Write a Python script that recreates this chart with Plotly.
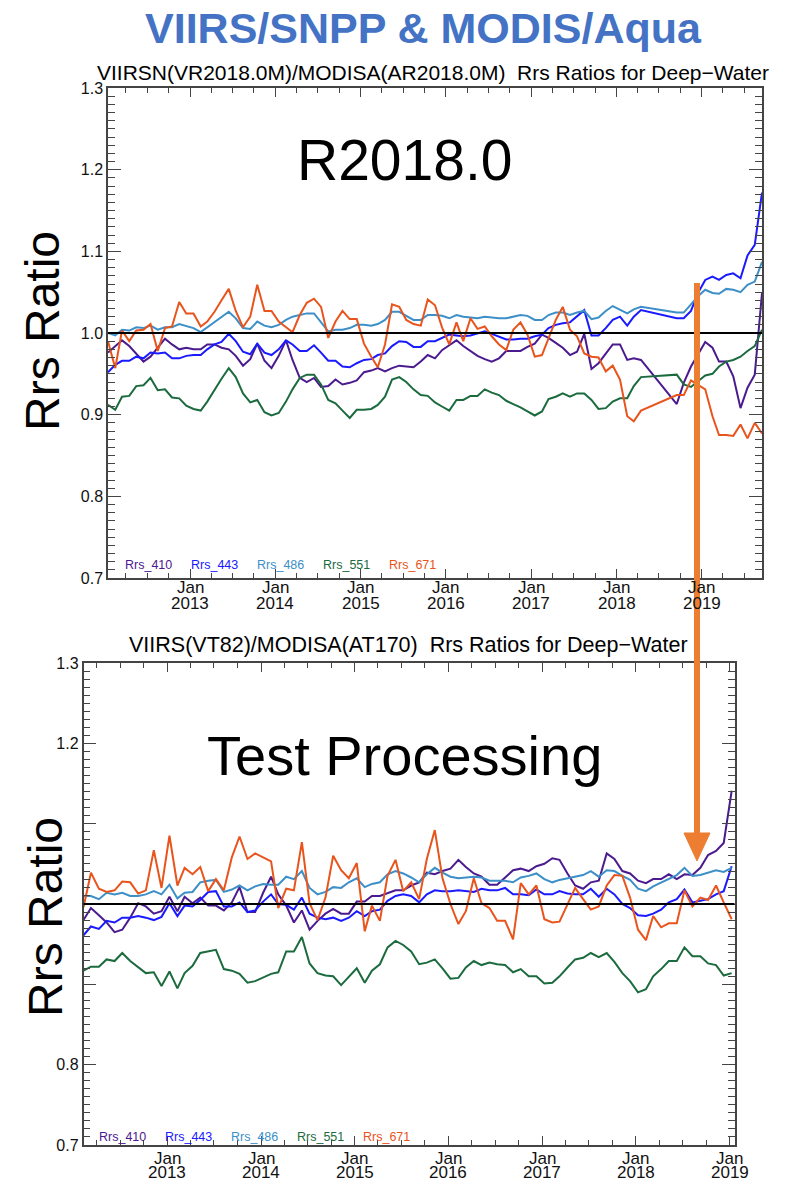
import pandas as pd
import plotly.graph_objects as go

# ---------------- data ----------------
BANDS = ["Rrs_410", "Rrs_443", "Rrs_486", "Rrs_551", "Rrs_671"]
COLORS = ["#4b1a8e", "#1a1aff", "#3d8fc8", "#1b6b3e", "#e9541c"]

# top panel: monthly, Jan 2012 - Sep 2019, no data May-Aug 2018
TOP_START = "2012-01-01"
TOP_MONTHS = 93
TOP_GAP = ["2018-05", "2018-06", "2018-07", "2018-08"]

top_410 = [0.976, 0.984, 0.991, 0.984, 0.974, 0.965, 0.971, 0.982, 0.993, 0.986, 0.980, 0.982, 0.980, 0.980, 0.986, 0.986,
           0.982, 0.980, 0.972, 0.960, 0.968, 0.987, 0.966, 0.957, 0.972, 0.991, 0.967, 0.945, 0.940, 0.945, 0.934, 0.935,
           0.943, 0.937, 0.939, 0.942, 0.952, 0.954, 0.957, 0.953, 0.957, 0.960, 0.959, 0.958, 0.965, 0.973, 0.969, 0.979,
           0.985, 0.991, 0.984, 0.978, 0.972, 0.968, 0.965, 0.969, 0.978, 0.978, 0.978, 0.983, 0.987,
           0.998, 0.994, 0.988, 0.982, 0.973, 0.977, 0.999, 0.956, 0.963, 0.975, 0.986, 0.986, 0.967, 0.969, 0.967,
           0.913, 0.939, 0.959, 0.973, 0.989, 0.982, 0.965, 0.965, 0.947, 0.908, 0.933, 0.949, 1.049]
top_443 = [0.952, 0.961, 0.966, 0.966, 0.971, 0.969, 0.976, 0.975, 0.976, 0.969, 0.969, 0.972, 0.973, 0.973, 0.980, 0.986,
           0.989, 0.999, 0.990, 0.977, 0.974, 0.987, 0.976, 0.973, 0.980, 0.991, 0.986, 0.978, 0.978, 0.985, 0.976, 0.966,
           0.966, 0.959, 0.958, 0.963, 0.967, 0.968, 0.973, 0.975, 0.984, 0.990, 0.989, 0.983, 0.983, 0.990, 0.990, 0.994,
           0.998, 0.997, 0.996, 0.997, 0.999, 1.002, 0.999, 0.995, 0.992, 0.992, 0.993, 0.993, 0.996,
           0.998, 1.006, 1.010, 1.012, 1.013, 1.020, 1.028, 0.997, 0.997, 1.006, 1.016, 1.020, 1.009, 1.020, 1.028,
           1.018, 1.018, 1.027, 1.049, 1.065, 1.069, 1.065, 1.071, 1.073, 1.067, 1.095, 1.108, 1.172]
top_486 = [1.000, 0.997, 1.004, 1.003, 1.007, 1.006, 1.009, 1.004, 1.007, 1.007, 1.011, 1.009, 1.006, 1.001, 1.007, 1.014,
           1.020, 1.026, 1.018, 1.006, 1.005, 1.014, 1.009, 1.007, 1.010, 1.016, 1.020, 1.022, 1.024, 1.024, 1.013, 1.002,
           1.004, 1.004, 1.006, 1.010, 1.010, 1.009, 1.011, 1.016, 1.026, 1.026, 1.021, 1.016, 1.016, 1.022, 1.022, 1.021,
           1.018, 1.022, 1.020, 1.019, 1.018, 1.020, 1.019, 1.018, 1.018, 1.020, 1.022, 1.021, 1.016,
           1.016, 1.022, 1.025, 1.025, 1.022, 1.025, 1.027, 1.017, 1.019, 1.027, 1.033, 1.029, 1.024, 1.029, 1.032,
           1.025, 1.025, 1.035, 1.045, 1.053, 1.049, 1.048, 1.054, 1.053, 1.050, 1.059, 1.063, 1.087]
top_551 = [0.912, 0.906, 0.922, 0.923, 0.935, 0.936, 0.945, 0.930, 0.931, 0.921, 0.920, 0.911, 0.907, 0.905, 0.916, 0.931,
           0.944, 0.957, 0.946, 0.926, 0.915, 0.918, 0.903, 0.899, 0.902, 0.916, 0.931, 0.945, 0.949, 0.949, 0.937, 0.918,
           0.914, 0.905, 0.896, 0.906, 0.906, 0.907, 0.912, 0.922, 0.943, 0.946, 0.940, 0.931, 0.924, 0.923, 0.915, 0.910,
           0.905, 0.918, 0.918, 0.923, 0.923, 0.931, 0.927, 0.924, 0.917, 0.913, 0.909, 0.904, 0.899,
           0.904, 0.919, 0.922, 0.926, 0.922, 0.926, 0.926, 0.918, 0.907, 0.908, 0.916, 0.920, 0.920, 0.935, 0.946,
           0.949, 0.937, 0.934, 0.941, 0.948, 0.950, 0.959, 0.965, 0.967, 0.971, 0.978, 0.984, 1.004]
top_671 = [0.990, 0.957, 1.003, 0.990, 1.003, 1.004, 1.011, 0.978, 1.006, 1.008, 1.038, 1.024, 1.024, 1.008, 1.014, 1.026,
           1.040, 1.054, 1.027, 1.007, 1.020, 1.059, 1.027, 1.027, 1.014, 1.007, 1.001, 1.022, 1.037, 1.042, 1.032, 0.994,
           1.014, 1.027, 1.017, 1.017, 0.987, 0.971, 0.958, 0.986, 1.035, 1.032, 1.016, 1.011, 1.009, 1.041, 1.034, 1.007,
           0.986, 1.013, 0.990, 1.018, 1.005, 1.008, 0.996, 0.986, 0.979, 1.004, 1.013, 0.998, 0.971,
           0.973, 0.994, 1.016, 1.032, 1.004, 0.996, 0.975, 0.971, 0.970, 0.953, 0.960, 0.943, 0.898, 0.892, 0.905,
           0.924, 0.924, 0.942, 0.937, 0.931, 0.898, 0.875, 0.875, 0.874, 0.888, 0.871, 0.890, 0.877]

# bottom panel: monthly, Feb 2012 - Jan 2019
BOT_START = "2012-02-01"
BOT_MONTHS = 84

bot_410 = [0.980, 0.995, 0.986, 0.977, 0.965, 0.968, 0.983, 1.001, 0.997, 0.988, 0.991, 1.009, 0.991, 1.009, 1.001, 1.008,
           0.998, 0.998, 0.992, 1.002, 1.021, 0.990, 0.990, 1.014, 1.034, 1.012, 0.998, 0.977, 0.992, 0.968,
           0.979, 0.988, 0.994, 0.988, 0.988, 1.003, 1.003, 1.010, 1.010, 1.013, 1.017, 1.017, 1.023, 1.027, 1.039, 1.037,
           1.041, 1.044, 1.055, 1.046, 1.038, 1.034, 1.024, 1.024, 1.033, 1.042, 1.044,
           1.041, 1.047, 1.050, 1.057, 1.055, 1.038, 1.023, 1.019, 1.027, 1.029, 1.063, 1.056, 1.041, 1.038, 1.029, 1.026,
           1.031, 1.031, 1.037, 1.031, 1.037, 1.036, 1.045, 1.061, 1.066, 1.076, 1.141]
bot_443 = [0.961, 0.972, 0.969, 0.979, 0.977, 0.983, 0.983, 0.985, 0.983, 0.980, 0.984, 1.001, 0.985, 0.998, 0.997, 1.005,
           1.015, 1.016, 0.997, 0.997, 1.002, 0.990, 0.992, 1.003, 1.012, 1.000, 0.999, 0.993, 1.008, 0.988,
           0.983, 0.981, 0.983, 0.979, 0.983, 0.991, 0.985, 0.991, 0.993, 1.004, 1.010, 1.012, 1.010, 1.002, 1.012, 1.017,
           1.016, 1.016, 1.017, 1.016, 1.015, 1.019, 1.017, 1.017, 1.020, 1.012, 1.012,
           1.011, 1.018, 1.012, 1.012, 1.016, 1.013, 1.012, 1.012, 1.019, 1.009, 1.019, 1.012, 1.000, 0.995, 0.986, 0.985,
           0.988, 0.993, 1.002, 1.006, 1.018, 1.002, 1.004, 1.006, 1.012, 1.016, 1.047]
bot_486 = [1.010, 1.010, 1.006, 1.014, 1.012, 1.014, 1.010, 1.010, 1.012, 1.016, 1.012, 1.024, 1.007, 1.014, 1.015, 1.027,
           1.029, 1.030, 1.015, 1.018, 1.023, 1.017, 1.022, 1.025, 1.024, 1.024, 1.034, 1.031, 1.041, 1.020,
           1.012, 1.015, 1.021, 1.020, 1.027, 1.032, 1.021, 1.025, 1.027, 1.037, 1.041, 1.038, 1.033, 1.027, 1.037, 1.045,
           1.039, 1.034, 1.032, 1.033, 1.034, 1.033, 1.029, 1.029, 1.029, 1.027, 1.033,
           1.035, 1.038, 1.031, 1.027, 1.030, 1.032, 1.034, 1.036, 1.041, 1.034, 1.042, 1.041, 1.035, 1.030, 1.019, 1.016,
           1.022, 1.027, 1.032, 1.036, 1.045, 1.035, 1.036, 1.039, 1.042, 1.040, 1.045]
bot_551 = [0.917, 0.922, 0.922, 0.931, 0.929, 0.939, 0.929, 0.921, 0.914, 0.915, 0.898, 0.916, 0.895, 0.914, 0.923, 0.939,
           0.941, 0.943, 0.919, 0.917, 0.913, 0.902, 0.904, 0.908, 0.913, 0.915, 0.941, 0.941, 0.959, 0.926,
           0.914, 0.911, 0.910, 0.899, 0.909, 0.920, 0.902, 0.917, 0.925, 0.946, 0.954, 0.949, 0.941, 0.925, 0.927, 0.931,
           0.920, 0.907, 0.908, 0.921, 0.929, 0.924, 0.927, 0.925, 0.924, 0.915, 0.919,
           0.910, 0.910, 0.901, 0.902, 0.910, 0.921, 0.931, 0.933, 0.939, 0.934, 0.939, 0.928, 0.914, 0.904, 0.890, 0.894,
           0.910, 0.919, 0.929, 0.929, 0.946, 0.935, 0.935, 0.926, 0.924, 0.911, 0.914]
bot_671 = [0.996, 1.039, 1.019, 1.015, 1.017, 1.028, 1.027, 1.013, 1.017, 1.067, 1.020, 1.085, 1.023, 1.045, 1.037, 1.046,
           1.016, 1.031, 1.017, 1.058, 1.084, 1.056, 1.063, 1.058, 1.053, 0.995, 1.019, 1.017, 1.077, 1.001,
           0.980, 1.008, 1.060, 1.042, 1.032, 1.051, 0.966, 0.998, 0.979, 1.035, 1.055, 1.016, 1.027, 1.006, 1.056, 1.092,
           1.032, 1.000, 0.975, 0.991, 1.032, 1.001, 0.995, 0.979, 0.979, 0.956, 1.026,
           1.012, 1.023, 0.981, 0.977, 0.978, 1.000, 1.020, 1.006, 0.993, 0.997, 1.023, 1.036, 1.035, 1.008, 0.968, 0.955,
           0.985, 0.971, 0.976, 0.976, 1.017, 0.997, 1.008, 1.005, 1.023, 1.002, 0.981]

Y_TICKS = [0.7, 0.8, 0.9, 1.0, 1.1, 1.2, 1.3]
TICK_YEARS = [2013, 2014, 2015, 2016, 2017, 2018, 2019]
TOP_TITLE = "VIIRSN(VR2018.0M)/MODISA(AR2018.0M)  Rrs Ratios for Deep\u2212Water"
BOT_TITLE = "VIIRS(VT82)/MODISA(AT170)  Rrs Ratios for Deep\u2212Water"

# ---------------- dates ----------------
top_all = pd.date_range(TOP_START, periods=TOP_MONTHS, freq="MS")
top_dates = [d + pd.Timedelta(days=14) for d in top_all if d.strftime("%Y-%m") not in TOP_GAP]
top_x = [d.strftime("%Y-%m-%d") for d in top_dates]
bot_all = pd.date_range(BOT_START, periods=BOT_MONTHS, freq="MS")
bot_x = [(d + pd.Timedelta(days=8)).strftime("%Y-%m-%d") for d in bot_all]

# page is 800x1181; the html body puts the figure 8px in from the top-left corner
PAGE_W, PAGE_H, BODY_M = 800, 1181, 8
W, H = PAGE_W - BODY_M, PAGE_H - BODY_M
FONT = "Liberation Sans, Arial, sans-serif"
AXC = "#444"


def px(x):
    return (x - BODY_M) / W


def py(y):
    return 1 - (y - BODY_M) / H


fig = go.Figure()
top_series = [top_410, top_443, top_486, top_551, top_671]
bot_series = [bot_410, bot_443, bot_486, bot_551, bot_671]
for name, col, ys in zip(BANDS, COLORS, top_series):
    fig.add_trace(go.Scatter(x=top_x, y=ys, mode="lines", name=name,
                             line=dict(color=col, width=2), xaxis="x", yaxis="y", showlegend=False))
for name, col, ys in zip(BANDS, COLORS, bot_series):
    fig.add_trace(go.Scatter(x=bot_x, y=ys, mode="lines", name=name,
                             line=dict(color=col, width=2), xaxis="x2", yaxis="y2", showlegend=False))


def xaxis_style(domain, rng, anchor):
    return dict(domain=domain, range=rng, anchor=anchor, type="date", automargin=False,
                tick0="2013-01-01", dtick="M12", showticklabels=False,
                ticks="inside", ticklen=9, tickwidth=1.2, tickcolor=AXC,
                minor=dict(dtick="M3", ticks="inside", ticklen=5, tickwidth=1, tickcolor=AXC),
                showline=True, linecolor=AXC, linewidth=1.5, mirror="allticks",
                showgrid=False, zeroline=False)


def yaxis_style(domain, anchor, ticktext):
    return dict(domain=domain, range=[0.7, 1.3], anchor=anchor, automargin=False,
                tickvals=Y_TICKS, ticktext=ticktext,
                ticks="inside", ticklen=13, tickwidth=1.2, tickcolor=AXC,
                minor=dict(dtick=0.01, ticks="inside", ticklen=7, tickwidth=1, tickcolor=AXC),
                showline=True, linecolor=AXC, linewidth=1.5, mirror="allticks",
                showgrid=False, zeroline=False,
                tickfont=dict(family=FONT, size=16, color="#111"))


top_ticktext = ["%.1f" % v for v in Y_TICKS]
bot_ticktext = ["0.7", "0.8", "", "", "", "1.2", "1.3"]

fig.update_layout(
    width=W, height=H, margin=dict(l=0, r=0, t=0, b=0, autoexpand=False),
    paper_bgcolor="white", plot_bgcolor="white",
    xaxis=xaxis_style([px(108), px(762)], ["2012-01-15", "2019-09-15"], "y"),
    yaxis=yaxis_style([py(578), py(88)], "x", top_ticktext),
    xaxis2=xaxis_style([px(83.5), px(734.5)], ["2012-02-09", "2019-01-20"], "y2"),
    yaxis2=yaxis_style([py(1145), py(663)], "x2", bot_ticktext),
)

# reference lines at ratio 1.0
for xr, yr in [("x domain", "y"), ("x2 domain", "y2")]:
    fig.add_shape(type="line", xref=xr, yref=yr, x0=0, x1=1, y0=1.0, y1=1.0,
                  line=dict(color="black", width=2), layer="above")

ann = []


def text(x, y, s, size, color="black", bold=False, angle=0, xanchor="center"):
    ann.append(dict(x=px(x), y=py(y), xref="paper", yref="paper", text=("<b>%s</b>" % s) if bold else s,
                    showarrow=False, xanchor=xanchor, yanchor="middle", textangle=angle,
                    font=dict(family=FONT, size=size, color=color)))


text(423, 28, "VIIRS/SNPP &amp; MODIS/Aqua", 43, color="#4472c4", bold=True)
text(433, 73, TOP_TITLE, 21)
text(408, 645, BOT_TITLE, 21.5)
text(405, 160, "R2018.0", 57)
text(404, 755, "Test Processing", 56)
text(42, 331, "Rrs Ratio", 48, angle=-90)
text(45, 917, "Rrs Ratio", 48, angle=-90)

for k, (name, col) in enumerate(zip(BANDS, COLORS)):
    text(123 + 66 * k, 565, name, 12.5, color=col, xanchor="left")
    text(97 + 66 * k, 1137, name, 12.5, color=col, xanchor="left")

# two-line date tick labels ("Jan" over the year), placed at the axis tick dates
for xa, y_jan, y_year in [("x", 588, 603), ("x2", 1158, 1172)]:
    for yr in TICK_YEARS:
        for s, yy in [("Jan", y_jan), (str(yr), y_year)]:
            ann.append(dict(x="%d-01-01" % yr, y=py(yy), xref=xa, yref="paper", text=s,
                            showarrow=False, xanchor="center", yanchor="middle",
                            font=dict(family=FONT, size=17, color="#111")))

fig.update_layout(annotations=ann)

# orange arrow
ORANGE = "#ed7d31"
fig.add_shape(type="line", xref="paper", yref="paper", x0=px(697), x1=px(697), y0=py(283), y1=py(836),
              line=dict(color=ORANGE, width=6), layer="above")
fig.add_shape(type="path", xref="paper", yref="paper",
              path="M %f %f L %f %f L %f %f Z" % (px(684), py(833), px(710), py(833), px(697), py(861)),
              fillcolor=ORANGE, line=dict(color=ORANGE, width=1), layer="above")

fig.write_html("out.html")
